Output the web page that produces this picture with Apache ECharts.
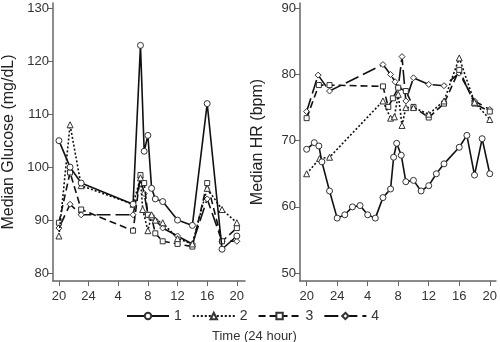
<!DOCTYPE html>
<html>
<head>
<meta charset="utf-8">
<script src="https://cdn.jsdelivr.net/npm/echarts@6/dist/echarts.min.js"></script>
<style>
  html, body { margin: 0; padding: 0; background: #fff; }
  #chart { width: 500px; height: 342px; }
</style>
</head>
<body>
<div id="chart"></div>
<script>
// time is hours from midnight of day 1 (20 = 8 pm, 44 = 8 pm next day)
var hourTicks = [20, 24, 28, 32, 36, 40, 44]
var glucoseTicks = [80, 90, 100, 110, 120, 130]
var hrTicks = [50, 60, 70, 80, 90]
var groups = ['1', '2', '3', '4']

// glucose
var gHours1 = [20, 21.5, 23, 30, 31, 31.5, 32, 32.5, 33, 34, 36, 38, 40, 42, 44]
var glucose1 = [105, 100, 97, 93, 123, 103, 106, 96, 94, 93.5, 90, 89, 112, 84.5, 87]
var gHours2 = [20, 21.5, 23, 30, 31, 31.3, 32, 32.5, 33, 34, 36, 38, 40, 42, 44]
var glucose2 = [87, 108, 96.5, 93, 98, 92, 88, 91, 90, 89.5, 86.5, 85.5, 96, 92, 89.5]
var gHours3 = [20, 21.5, 23, 30, 31, 31.5, 32, 32.5, 33, 34, 36, 38, 40, 42, 44]
var glucose3 = [89.5, 99, 92, 88, 98.5, 97, 91, 90.5, 87.5, 86, 85.5, 85, 97, 86, 88.5]
var gHours4 = [20, 21.5, 23, 30, 31, 31.5, 32, 32.5, 33, 34, 36, 38, 40, 42, 44]
var glucose4 = [88.5, 93, 91, 91, 98, 95, 91, 90.5, 90, 88.5, 87, 85.5, 94, 86, 86]

// heart rate
var hHours1 = [20, 21, 21.6, 22, 23, 24, 25, 26, 27, 28, 29, 30, 31, 31.4, 31.8, 32.4, 33, 34, 35, 36, 37, 38, 40, 41, 42, 43, 44]
var hr1 = [68.7, 69.7, 69.2, 66.8, 62.4, 58.3, 58.8, 60, 60.2, 58.8, 58.3, 61.4, 62.7, 67.5, 69.6, 67.8, 63.8, 64, 62.4, 63.2, 65, 66.5, 69, 70.8, 64.8, 70.3, 65]
var hHours2 = [20, 21.7, 23, 30, 31, 31.5, 32, 32.5, 33, 34, 36, 38, 40, 42, 44]
var hr2 = [65, 67.3, 67.5, 76, 73.4, 73.6, 77, 72.3, 75, 75, 74, 76, 82.5, 75.8, 73.2]
var hHours3 = [20, 21.6, 23, 30, 30.7, 31.3, 32, 33, 34, 36, 38, 40, 42, 44]
var hr3 = [73.4, 78.4, 78.4, 78.2, 75.1, 76.4, 78, 77.5, 75.1, 73.5, 75.6, 80.7, 75.6, 74.4]
var hHours4 = [20, 21.5, 23, 30, 31, 31.6, 32, 32.5, 33, 34, 36, 38, 40, 42, 44]
var hr4 = [74.4, 79.9, 77.5, 81.5, 80, 78.9, 78, 82.7, 76, 79.5, 78.5, 78.3, 80.2, 76, 74.7]

var myChart = echarts.init(document.getElementById('chart'))

var symbols = ['circle', 'triangle', 'rect', 'diamond']
var dashes = ['solid', [2, 2], [7, 4], [14, 5]]
var font = 'Liberation Sans, Arial, sans-serif'

function pairs (xs, ys) {
  return xs.map(function (x, i) { return [x, ys[i]] })
}

function makeSeries (k, xs, ys, idx) {
  return {
    name: groups[k],
    type: 'line',
    xAxisIndex: idx,
    yAxisIndex: idx,
    data: pairs(xs, ys),
    symbol: symbols[k],
    symbolSize: k === 2 ? 5 : 6,
    showAllSymbol: true,
    animation: false,
    z: 10 - k,
    lineStyle: { color: '#111', width: 1.6, type: dashes[k] },
    itemStyle: { color: '#fff', borderColor: '#333', borderWidth: 1 }
  }
}

function xAxis (idx, min, max) {
  return {
    type: 'value',
    gridIndex: idx,
    min: min,
    max: max,
    axisLine: { show: true, lineStyle: { color: '#666', width: 1.5 } },
    axisTick: { show: true, length: 5, customValues: hourTicks, lineStyle: { color: '#666' } },
    axisLabel: {
      customValues: hourTicks,
      color: '#333',
      fontSize: 13,
      fontFamily: font,
      margin: 9,
      formatter: function (v) { return v <= 24 ? String(v) : String(v - 24) }
    },
    splitLine: { show: false }
  }
}

function yAxis (idx, min, max, ticks, name, gap) {
  return {
    type: 'value',
    gridIndex: idx,
    min: min,
    max: max,
    name: name,
    nameLocation: 'middle',
    nameGap: gap,
    nameTextStyle: { color: '#222', fontSize: 16, fontFamily: font },
    axisLine: { show: true, lineStyle: { color: '#666', width: 1.5 } },
    axisTick: { show: true, length: 5, customValues: ticks, lineStyle: { color: '#666' } },
    axisLabel: { customValues: ticks, color: '#333', fontSize: 13, fontFamily: font, margin: 4 },
    splitLine: { show: false }
  }
}

var option = {
  backgroundColor: '#fff',
  title: {
    text: 'Time (24 hour)',
    left: 207,
    top: 325,
    textStyle: { color: '#333', fontSize: 13, fontWeight: 'normal', fontFamily: font }
  },
  legend: {
    data: groups,
    left: 121,
    top: 304,
    itemWidth: 42,
    itemHeight: 8,
    itemGap: 10,
    textStyle: { color: '#333', fontSize: 14, fontFamily: font }
  },
  grid: [
    { left: 53, right: 255, top: 3, bottom: 61 },
    { left: 300, right: 2, top: 3, bottom: 61 }
  ],
  xAxis: [xAxis(0, 19.2, 45.1), xAxis(1, 19.13, 44.8)],
  yAxis: [
    yAxis(0, 78.5, 131, glucoseTicks, 'Median Glucose (mg/dL)', 36),
    yAxis(1, 48.8, 90.8, hrTicks, 'Median HR (bpm)', 34)
  ],
  series: [
    makeSeries(0, gHours1, glucose1, 0),
    makeSeries(1, gHours2, glucose2, 0),
    makeSeries(2, gHours3, glucose3, 0),
    makeSeries(3, gHours4, glucose4, 0),
    makeSeries(0, hHours1, hr1, 1),
    makeSeries(1, hHours2, hr2, 1),
    makeSeries(2, hHours3, hr3, 1),
    makeSeries(3, hHours4, hr4, 1)
  ]
}

myChart.setOption(option)
</script>
</body>
</html>
